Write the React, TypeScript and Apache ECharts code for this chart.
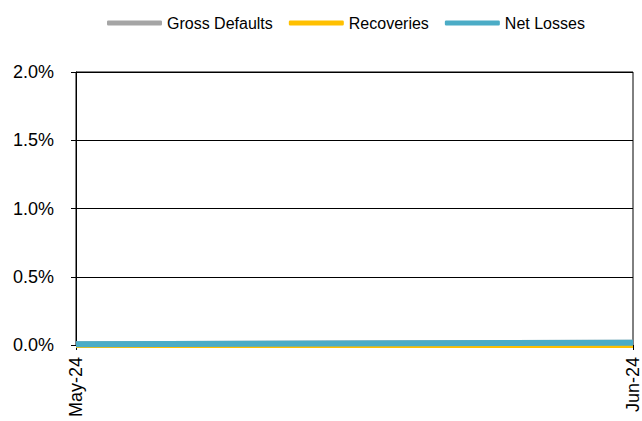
import React, { useEffect, useRef } from "react";
import * as echarts from "echarts";

const categories = ["May-24", "Jun-24"];
const grossDefaults = [0.006, 0.016];
const recoveries = [0.0, 0.0];
const netLosses = [0.006, 0.016];
const yTicks = { min: 0, max: 2, interval: 0.5 };

export default function App() {
  const ref = useRef<HTMLDivElement>(null);
  useEffect(() => {
    const chart = echarts.init(ref.current!, null, { renderer: "svg" });
    const font = "Arial, 'Liberation Sans', sans-serif";
    const mk = (name: string, data: number[], color: string) => ({
      name,
      type: "line",
      data,
      symbol: "none",
      lineStyle: { color, width: 6, cap: "butt" },
      itemStyle: { color },
    });
    chart.setOption({
      animation: false,
      legend: {
        top: 10,
        left: 102,
        icon: "roundRect",
        itemWidth: 55,
        itemHeight: 5,
        itemGap: 16,
        textStyle: { fontFamily: font, fontSize: 16, color: "#000" },
        data: ["Gross Defaults", "Recoveries", "Net Losses"],
      },
      grid: { left: 76, right: 6, top: 72, bottom: 76, show: true, borderColor: "#000", borderWidth: 1 },
      xAxis: {
        type: "category",
        data: categories,
        boundaryGap: false,
        axisLine: { show: true, lineStyle: { color: "#000" } },
        axisTick: { show: true, length: 5, alignWithLabel: true, lineStyle: { color: "#000" } },
        axisLabel: { rotate: 90, fontFamily: font, fontSize: 18, color: "#000", margin: 12 },
      },
      yAxis: {
        type: "value",
        min: yTicks.min,
        max: yTicks.max,
        interval: yTicks.interval,
        axisLine: { show: true, lineStyle: { color: "#000" } },
        axisTick: { show: true, length: 5, lineStyle: { color: "#000" } },
        splitLine: { show: true, lineStyle: { color: "#000", width: 1 } },
        axisLabel: {
          fontFamily: font,
          fontSize: 18,
          color: "#000",
          margin: 22,
          formatter: (v: number) => v.toFixed(1) + "%",
        },
      },
      series: [
        mk("Gross Defaults", grossDefaults, "#A5A5A5"),
        mk("Recoveries", recoveries, "#FFC000"),
        mk("Net Losses", netLosses, "#4BACC6"),
      ],
    });
    return () => chart.dispose();
  }, []);
  return (
    <div
      ref={ref}
      style={{ position: "absolute", left: 0, top: 0, width: 642, height: 421 }}
    />
  );
}
